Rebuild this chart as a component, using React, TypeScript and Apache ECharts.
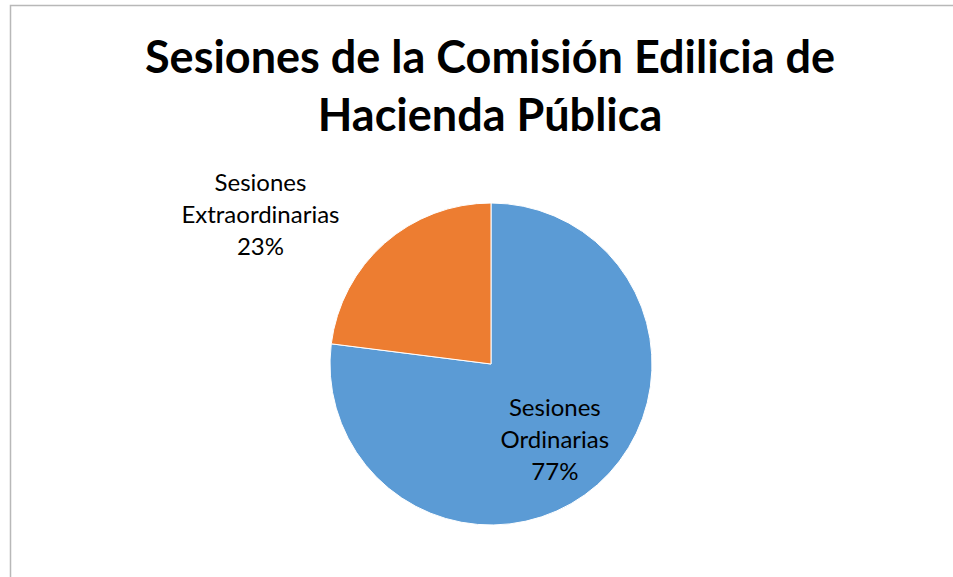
import React, { useEffect, useRef } from "react";
import * as echarts from "echarts";

const categories = ["Sesiones Ordinarias", "Sesiones Extraordinarias"];
const labelNames = ["Sesiones\nOrdinarias", "Sesiones\nExtraordinarias"];
const values = [77, 23];
const colors = ["#5B9BD5", "#ED7D31"];
const titleText = "Sesiones de la Comisión Edilicia de\nHacienda Pública";

const CX = 491;
const CY = 364;
const R = 161;

export default function App() {
  const ref = useRef<HTMLDivElement>(null);
  useEffect(() => {
    const chart = echarts.init(ref.current!, null, { renderer: "svg" });
    const total = values.reduce((a, b) => a + b, 0);
    // mid-angles (clockwise from top, radians)
    let acc = 0;
    const mids = values.map((v) => {
      const m = ((acc + v / 2) / total) * Math.PI * 2;
      acc += v;
      return m;
    });
    // label radial factor and angle tweak (Excel best-fit placement)
    const labelRadial = [0.61, 1.71];
    const labelAngleShift = [0.015, -0.27];
    chart.setOption({
      animation: false,
      backgroundColor: "#ffffff",
      title: {
        text: titleText,
        left: "center",
        top: 22,
        textStyle: {
          fontFamily: "Lato",
          fontWeight: "bold",
          fontSize: 45,
          lineHeight: 58,
          color: "#000000",
        },
      },
      graphic: [
        {
          type: "rect",
          shape: { x: 10.5, y: 5.5, width: 1200, height: 1200 },
          style: { fill: "none", stroke: "#b8b8b8", lineWidth: 1.5 },
          silent: true,
        },
      ],
      series: [
        {
          type: "pie",
          center: [CX, CY],
          radius: R,
          startAngle: 90,
          clockwise: true,
          itemStyle: { borderColor: "#ffffff", borderWidth: 1 },
          labelLine: { show: false },
          label: {
            show: true,
            position: "inside",
            formatter: (p: any) => `${labelNames[p.dataIndex]}\n${Math.round(p.percent)}%`,
            fontFamily: "Lato",
            fontSize: 24,
            lineHeight: 32,
            color: "#000000",
            align: "center",
          },
          labelLayout: (p: any) => {
            const i = p.dataIndex;
            const a = mids[i] + labelAngleShift[i];
            const r = R * labelRadial[i];
            return {
              x: CX + Math.sin(a) * r,
              y: CY - Math.cos(a) * r,
              align: "center",
              verticalAlign: "middle",
            };
          },
          data: categories.map((c, i) => ({
            name: c,
            value: values[i],
            itemStyle: { color: colors[i] },
          })),
        },
      ],
    });
    return () => chart.dispose();
  }, []);
  return (
    <div
      style={{
        position: "absolute",
        left: 0,
        top: 0,
        width: 953,
        height: 577,
        overflow: "hidden",
        background: "#ffffff",
      }}
    >
      <div ref={ref} style={{ width: 980, height: 577 }} />
    </div>
  );
}
